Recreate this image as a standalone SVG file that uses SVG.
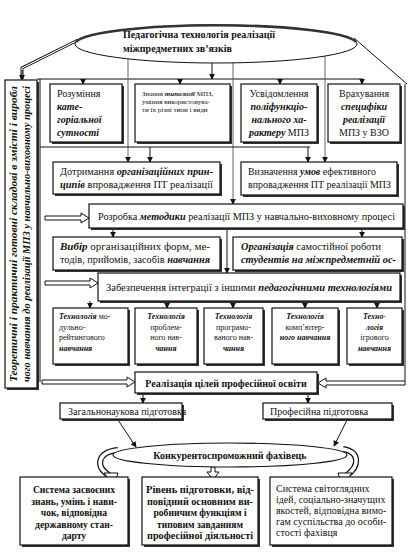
<svg xmlns="http://www.w3.org/2000/svg" width="409" height="556" viewBox="0 0 409 556">
<defs>
<marker id="ah" viewBox="0 0 8 8" refX="7" refY="4" markerWidth="6" markerHeight="6" orient="auto" markerUnits="userSpaceOnUse"><path d="M0,0 L8,4 L0,8 Z" fill="#111"/></marker>
<style>
text{font-family:"Liberation Serif","Times New Roman",serif;fill:#111}
.t{font-size:10px}
.bt{font-size:9.6px;font-weight:bold}
.s{font-size:7px}
.m{font-size:8px}
.bi{font-weight:bold;font-style:italic}
.b{font-weight:bold}
.i{font-style:italic}
.box{fill:#fff;stroke:#111;stroke-width:1.2}
.sh{fill:#333}
.ln{stroke:#111;stroke-width:1;fill:none}
.lg{stroke:#666;stroke-width:1;fill:none}
.ho{fill:#fff;stroke:#111;stroke-width:1}
</style>
</defs>
<rect width="409" height="556" fill="#fff"/>

<g id="connectors">
<line class="ln" x1="37" y1="79" x2="363" y2="79"/>
<line class="ln" x1="83" y1="79" x2="83" y2="84" marker-end="url(#ah)"/>
<line class="ln" x1="180" y1="79" x2="180" y2="84" marker-end="url(#ah)"/>
<line class="ln" x1="280" y1="79" x2="280" y2="84" marker-end="url(#ah)"/>
<line class="ln" x1="362" y1="79" x2="362" y2="84" marker-end="url(#ah)"/>
<line class="ln" x1="212" y1="63" x2="212" y2="79" marker-end="url(#ah)"/>
<path d="M78,40 L22,68 L22,79" stroke="#111" stroke-width="3" fill="none"/>
<path d="M78,40 L22,68 L22,76" stroke="#fff" stroke-width="1.2" fill="none"/>
<path d="M22,70 L22,80" class="ln" marker-end="url(#ah)"/>
<line class="ln" x1="354" y1="38" x2="407" y2="84"/>
<line class="ln" x1="405" y1="84" x2="405" y2="381"/>
<line class="ln" x1="40" y1="79" x2="40" y2="382"/>
<line class="lg" x1="128" y1="58" x2="128" y2="162" marker-end="url(#ah)"/>
<line class="lg" x1="233" y1="63" x2="233" y2="204" marker-end="url(#ah)"/>
<line class="lg" x1="325" y1="56" x2="325" y2="162" marker-end="url(#ah)"/>
<line class="ln" x1="40" y1="147" x2="310" y2="147"/>
<line class="ln" x1="150" y1="147" x2="150" y2="162" marker-end="url(#ah)"/>
<line class="ln" x1="308" y1="147" x2="308" y2="162" marker-end="url(#ah)"/>
<line class="ln" x1="113" y1="228" x2="113" y2="237" marker-end="url(#ah)"/>
<line class="ln" x1="362" y1="228" x2="362" y2="237" marker-end="url(#ah)"/>
<line class="ln" x1="227" y1="228" x2="227" y2="273" marker-end="url(#ah)"/>
<line class="ln" x1="90" y1="301" x2="90" y2="308" marker-end="url(#ah)"/>
<line class="ln" x1="167" y1="301" x2="167" y2="308" marker-end="url(#ah)"/>
<line class="ln" x1="233" y1="301" x2="233" y2="308" marker-end="url(#ah)"/>
<line class="ln" x1="305" y1="301" x2="305" y2="308" marker-end="url(#ah)"/>
<line class="ln" x1="377" y1="301" x2="377" y2="308" marker-end="url(#ah)"/>
<line class="ln" x1="143" y1="393" x2="143" y2="403" marker-end="url(#ah)"/>
<line class="ln" x1="308" y1="393" x2="308" y2="403" marker-end="url(#ah)"/>
<line class="ln" x1="118" y1="420" x2="136" y2="447" marker-end="url(#ah)"/>
<line class="ln" x1="347" y1="420" x2="334" y2="446" marker-end="url(#ah)"/>
<polygon class="ho" points="45,216 81,216 81,213 89,218 81,223 81,220 45,220"/>
<polygon class="ho" points="45,281 90,281 90,278 98,283 90,288 90,285 45,285"/>
<polygon class="ho" points="42,380 127,380 127,377 135,382 127,387 127,384 42,384"/>
<polygon class="ho" points="405,381 326,381 326,378 318,383 326,388 326,385 405,385"/>
<path d="M118,450 C98,452 94,466 110,476" stroke="#111" stroke-width="6" fill="none"/>
<path d="M118,450 C98,452 94,466 110,476" stroke="#fff" stroke-width="3.6" fill="none"/>
<polygon class="ho" points="104,473 118,473 114,486"/>
<path d="M343,449 C360,452 360,466 346,476" stroke="#111" stroke-width="6" fill="none"/>
<path d="M343,449 C360,452 360,466 346,476" stroke="#fff" stroke-width="3.6" fill="none"/>
<polygon class="ho" points="338,473 352,473 342,486"/>
<polygon class="ho" points="211,467 215,467 215,472 219,472 213,480 207,472 211,472"/>
</g>

<g id="top-ellipse">
<ellipse cx="216" cy="44" rx="141" ry="19" fill="#fff" stroke="#111" stroke-width="1"/>
<path d="M76,42 A141,19 0 0 1 356,42" stroke="#333" stroke-width="2.6" fill="none"/>
<text class="t b" x="123" y="38">Педагогічна технологія реалізації</text>
<text class="t b" x="123" y="52">міжпредметних зв’язків</text>
</g>

<g id="left-box">
<rect class="sh" x="7" y="82" width="32" height="308"/>
<rect class="box" x="5" y="80" width="32" height="308"/>
<text class="bi" font-size="9.5" transform="translate(17,234) rotate(-90)" text-anchor="middle" textLength="296" lengthAdjust="spacingAndGlyphs">Теоретичні і практичні готовні складові в змісті і виробл</text>
<text class="bi" font-size="9.5" transform="translate(30,234) rotate(-90)" text-anchor="middle" textLength="296" lengthAdjust="spacingAndGlyphs">чого навчання до реалізації МПЗ у навчально-виховному процесі</text>
</g>

<g id="n1">
<rect class="sh" x="52" y="86" width="72" height="58"/>
<rect class="box" x="50" y="84" width="72" height="58"/>
<text class="t" x="57" y="97">Розуміння</text>
<text class="t bi" x="57" y="110">кате-</text>
<text class="t bi" x="57" y="123">горіальної</text>
<text class="t bi" x="57" y="136">сутності</text>
</g>
<g id="n2">
<rect class="sh" x="137" y="86" width="95" height="58"/>
<rect class="box" x="135" y="84" width="95" height="58"/>
<text class="s" x="142" y="96">Знання <tspan class="bi">типології</tspan> МПЗ,</text>
<text class="s" x="142" y="104">уміння використовува-</text>
<text class="s" x="142" y="112">ти їх різні типи і види</text>
</g>
<g id="n3">
<rect class="sh" x="243" y="86" width="76" height="58"/>
<rect class="box" x="241" y="84" width="76" height="58"/>
<text class="t" x="279" y="97" text-anchor="middle">Усвідомлення</text>
<text class="t bi" x="279" y="110" text-anchor="middle">поліфункціо-</text>
<text class="t bi" x="279" y="123" text-anchor="middle">нального ха-</text>
<text class="t" x="279" y="136" text-anchor="middle"><tspan class="bi">рактеру</tspan> МПЗ</text>
</g>
<g id="n4">
<rect class="sh" x="330" y="86" width="72" height="58"/>
<rect class="box" x="328" y="84" width="72" height="58"/>
<text class="t" x="364" y="97" text-anchor="middle">Врахування</text>
<text class="t bi" x="364" y="110" text-anchor="middle">специфіки</text>
<text class="t bi" x="364" y="123" text-anchor="middle">реалізації</text>
<text class="t" x="364" y="136" text-anchor="middle">МПЗ у ВЗО</text>
</g>

<g id="n5">
<rect class="sh" x="55" y="164" width="167" height="32"/>
<rect class="box" x="53" y="162" width="167" height="32"/>
<text class="t" x="60" y="175" textLength="153" lengthAdjust="spacingAndGlyphs">Дотримання <tspan class="bi">організаційних прин-</tspan></text>
<text class="t" x="60" y="188" textLength="153" lengthAdjust="spacingAndGlyphs"><tspan class="bi">ципів</tspan> впровадження ПТ реалізації</text>
</g>
<g id="n6">
<rect class="sh" x="243" y="164" width="156" height="33"/>
<rect class="box" x="241" y="162" width="156" height="33"/>
<text class="t" x="248" y="175" textLength="128" lengthAdjust="spacingAndGlyphs">Визначення <tspan class="bi">умов</tspan> ефективного</text>
<text class="t" x="248" y="188" textLength="143" lengthAdjust="spacingAndGlyphs">впровадження ПТ реалізації МПЗ</text>
</g>

<g id="n7">
<rect class="sh" x="91" y="206" width="314" height="24"/>
<rect class="box" x="89" y="204" width="314" height="24"/>
<text class="t" x="98" y="220" textLength="297" lengthAdjust="spacingAndGlyphs">Розробка <tspan class="bi">методики</tspan> реалізації МПЗ у навчально-виховному процесі</text>
</g>

<g id="n8">
<rect class="sh" x="55" y="239" width="167" height="33"/>
<rect class="box" x="53" y="237" width="167" height="33"/>
<text class="t" x="60" y="250" textLength="150" lengthAdjust="spacingAndGlyphs"><tspan class="bi">Вибір</tspan> організаційних форм, ме-</text>
<text class="t" x="60" y="263" textLength="150" lengthAdjust="spacingAndGlyphs">тодів, прийомів, засобів <tspan class="bi">навчання</tspan></text>
</g>
<g id="n9">
<rect class="sh" x="235" y="239" width="169" height="33"/>
<rect class="box" x="233" y="237" width="169" height="33"/>
<text class="t" x="241" y="250" textLength="140" lengthAdjust="spacingAndGlyphs"><tspan class="bi">Організація</tspan> самостійної роботи</text>
<text class="t bi" x="241" y="263" textLength="155" lengthAdjust="spacingAndGlyphs">студентів на міжпредметній ос-</text>
</g>

<g id="n10">
<rect class="sh" x="100" y="275" width="302" height="28"/>
<rect class="box" x="98" y="273" width="302" height="28"/>
<text class="t" x="106" y="291" textLength="286" lengthAdjust="spacingAndGlyphs">Забезпечення інтеграції з іншими <tspan class="bi">педагогічними технологіями</tspan></text>
</g>

<g id="n11">
<rect class="sh" x="55" y="310" width="75" height="56"/>
<rect class="box" x="53" y="308" width="75" height="56"/>
<text class="m" x="59" y="319"><tspan class="bi">Технологія</tspan> мо-</text>
<text class="m" x="59" y="329.5">дульно-</text>
<text class="m" x="59" y="340">рейтингового</text>
<text class="m bi" x="59" y="350.5">навчання</text>
</g>
<g id="n12">
<rect class="sh" x="137" y="310" width="62" height="56"/>
<rect class="box" x="135" y="308" width="62" height="56"/>
<text class="m bi" x="166" y="319" text-anchor="middle">Технологія</text>
<text class="m" x="166" y="329.5" text-anchor="middle">проблем-</text>
<text class="m" x="166" y="340" text-anchor="middle">ного нав-</text>
<text class="m bi" x="166" y="350.5" text-anchor="middle">чання</text>
</g>
<g id="n13">
<rect class="sh" x="206" y="310" width="59" height="56"/>
<rect class="box" x="204" y="308" width="59" height="56"/>
<text class="m bi" x="233.5" y="319" text-anchor="middle">Технологія</text>
<text class="m" x="233.5" y="329.5" text-anchor="middle">програмо-</text>
<text class="m" x="233.5" y="340" text-anchor="middle">ваного нав-</text>
<text class="m bi" x="233.5" y="350.5" text-anchor="middle">чання</text>
</g>
<g id="n14">
<rect class="sh" x="274" y="310" width="66" height="56"/>
<rect class="box" x="272" y="308" width="66" height="56"/>
<text class="m bi" x="305" y="319" text-anchor="middle">Технологія</text>
<text class="m" x="305" y="329.5" text-anchor="middle">комп’ютер-</text>
<text class="m bi" x="305" y="340" text-anchor="middle">ного навчання</text>
</g>
<g id="n15">
<rect class="sh" x="349" y="310" width="55" height="56"/>
<rect class="box" x="347" y="308" width="55" height="56"/>
<text class="m bi" x="374.5" y="319" text-anchor="middle">Техно-</text>
<text class="m bi" x="374.5" y="329.5" text-anchor="middle">логія</text>
<text class="m" x="374.5" y="340" text-anchor="middle">ігрового</text>
<text class="m bi" x="374.5" y="350.5" text-anchor="middle">навчання</text>
</g>

<g id="n16">
<rect class="sh" x="137" y="374" width="182" height="21"/>
<rect class="box" x="135" y="372" width="182" height="21"/>
<text class="t b" x="226" y="387" text-anchor="middle">Реалізація цілей професійної освіти</text>
</g>

<g id="n17">
<rect class="sh" x="62" y="405" width="122" height="16"/>
<rect class="box" x="60" y="403" width="122" height="16"/>
<text class="t" x="68" y="415">Загальнонаукова підготовка</text>
</g>
<g id="n18">
<rect class="sh" x="265" y="405" width="129" height="16"/>
<rect class="box" x="263" y="403" width="129" height="16"/>
<text class="t" x="270" y="415">Професійна підготовка</text>
</g>

<g id="bottom-ellipse">
<ellipse cx="230" cy="455" rx="117" ry="12" fill="#fff" stroke="#111" stroke-width="1.2"/>
<text class="t b" x="230" y="459" text-anchor="middle">Конкурентоспроможний фахівець</text>
</g>

<g id="n19">
<rect class="sh" x="22" y="479" width="108" height="68"/>
<rect class="box" x="20" y="477" width="108" height="68"/>
<text class="bt" x="74" y="493" text-anchor="middle">Система засвоєних</text>
<text class="bt" x="74" y="504.5" text-anchor="middle">знань, умінь і нави-</text>
<text class="bt" x="74" y="516" text-anchor="middle">чок, відповідна</text>
<text class="bt" x="74" y="527.5" text-anchor="middle">державному стан-</text>
<text class="bt" x="74" y="539" text-anchor="middle">дарту</text>
</g>
<g id="n20">
<rect class="sh" x="144" y="479" width="116" height="68"/>
<rect class="box" x="142" y="477" width="116" height="68"/>
<text class="bt" x="200" y="493" text-anchor="middle" textLength="108" lengthAdjust="spacingAndGlyphs">Рівень підготовки, від-</text>
<text class="bt" x="200" y="504.5" text-anchor="middle" textLength="106" lengthAdjust="spacingAndGlyphs">повідний основним ви-</text>
<text class="bt" x="200" y="516" text-anchor="middle">робничим функціям і</text>
<text class="bt" x="200" y="527.5" text-anchor="middle">типовим завданням</text>
<text class="bt" x="200" y="539" text-anchor="middle" textLength="106" lengthAdjust="spacingAndGlyphs">професійної діяльності</text>
</g>
<g id="n21">
<rect class="sh" x="272" y="479" width="122" height="68"/>
<rect class="box" x="270" y="477" width="122" height="68"/>
<text class="t" x="276" y="492">Система світоглядних</text>
<text class="t" x="276" y="503">ідей, соціально-значущих</text>
<text class="t" x="276" y="514">якостей, відповідна вимо-</text>
<text class="t" x="276" y="525">гам суспільства до особи-</text>
<text class="t" x="276" y="536">стості фахівця</text>
</g>
</svg>
